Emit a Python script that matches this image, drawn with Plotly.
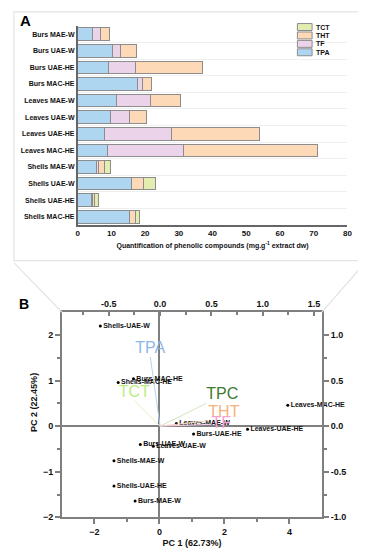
import plotly.graph_objects as go

W, H = 366, 550
FONT = "Liberation Sans"

# ---------------- Panel A data ----------------
categories = ["Burs MAE-W", "Burs UAE-W", "Burs UAE-HE", "Burs MAC-HE",
              "Leaves MAE-W", "Leaves UAE-W", "Leaves UAE-HE", "Leaves MAC-HE",
              "Shells MAE-W", "Shells UAE-W", "Shells UAE-HE", "Shells MAC-HE"]
tpa = [4.4, 10.3, 9.2, 17.7, 11.4, 9.7, 8.0, 8.7, 5.6, 16.1, 4.1, 15.5]
tf = [2.4, 2.3, 7.8, 1.5, 10.1, 5.8, 19.7, 22.7, 0.6, 0.0, 0.2, 0.0]
tht = [2.7, 4.9, 19.9, 2.6, 9.0, 4.9, 26.2, 39.6, 1.8, 3.4, 0.6, 1.7]
tct = [0.0, 0.0, 0.0, 0.0, 0.0, 0.0, 0.0, 0.0, 1.6, 3.5, 1.4, 1.1]
series_names = ["TPA", "TF", "THT", "TCT"]
series_values = [tpa, tf, tht, tct]
series_colors = ["#aed6f1", "#ebd4ea", "#fdd9b8", "#e2eeb0"]
x_ticks_a = [0, 10, 20, 30, 40, 50, 60, 70, 80]

# ---------------- Panel B data ----------------
samples = ["Shells-UAE-W", "Burs-MAC-HE", "Shells-MAC-HE", "Leaves-MAE-W",
           "Leaves-MAC-HE", "Leaves-UAE-HE", "Burs-UAE-HE", "Burs-UAE-W",
           "Leaves-UAE-W", "Shells-MAE-W", "Shells-UAE-HE", "Burs-MAE-W"]
pc1 = [-1.82, -0.80, -1.27, 0.52, 3.95, 2.71, 1.05, -0.59, -0.19, -1.40, -1.40, -0.75]
pc2 = [2.20, 1.04, 0.96, 0.06, 0.46, -0.07, -0.17, -0.40, -0.44, -0.76, -1.31, -1.64]

variables = ["TPA", "TCT", "TPC", "THT", "TF"]
load1 = [-0.095, -0.25, 0.45, 0.47, 0.50]
load2 = [0.76, 0.28, 0.25, 0.06, 0.02]
var_colors = ["#8ab8e6", "#b9ee80", "#3b7a2c", "#f6b27a", "#f4a2d6"]
var_line_colors = ["#b8d4ee", "#dcf5bf", "#cfe6c4", "#fbd9bd", "#f8cfe9"]
var_textpos = ["top center", "top center", "top right", "top right", "middle right"]


def X(px):
    return px / W


def Y(py):
    return 1 - py / H


fig = go.Figure()

# Panel A bars
for name, vals, col in zip(series_names, series_values, series_colors):
    fig.add_trace(go.Bar(
        y=categories, x=vals, name=name, orientation="h",
        marker=dict(color=col, line=dict(color="#8c8c8c", width=1)),
        width=0.76, xaxis="x", yaxis="y", showlegend=False,
    ))

# Panel B loadings (top / right axes): vector lines, then labels at the tips
for v, a, b, c, lc, tp in zip(variables, load1, load2, var_colors, var_line_colors, var_textpos):
    fig.add_trace(go.Scatter(
        x=[0, a], y=[0, b], mode="lines",
        line=dict(color=lc, width=1), xaxis="x3", yaxis="y3",
        showlegend=False, hoverinfo="skip",
    ))
for v, a, b, c, tp in zip(variables, load1, load2, var_colors, var_textpos):
    fig.add_trace(go.Scatter(
        x=[a], y=[b], mode="text", text=[v], cliponaxis=False,
        textposition=tp, textfont=dict(family=FONT, size=16, color=c),
        xaxis="x3", yaxis="y3", showlegend=False, hoverinfo="skip",
    ))

# Panel B scores
fig.add_trace(go.Scatter(
    x=pc1, y=pc2, mode="markers+text", text=samples, textposition="middle right",
    textfont=dict(family=FONT, size=7, color="#111111", weight="bold"),
    marker=dict(color="black", size=3), xaxis="x2", yaxis="y2", showlegend=False,
    cliponaxis=False,
))

axis_gray = "#7f7f7f"
tickfont_b = dict(family=FONT, size=9, color="#111111", weight="bold")

fig.update_layout(
    width=W, height=H, margin=dict(l=0, r=0, t=0, b=0),
    paper_bgcolor="white", plot_bgcolor="white", barmode="stack",
    font=dict(family=FONT, color="#111111"),
    xaxis=dict(domain=[X(69), X(344)], range=[0, 80], tickvals=x_ticks_a,
               showline=True, linecolor="#666666", linewidth=1.5,
               showgrid=False, zeroline=False, ticks="",
               tickfont=dict(family=FONT, size=8, weight="bold"),
               title=dict(text="Quantification of phenolic compounds (mg.g<sup>-1</sup> extract dw)",
                          font=dict(family=FONT, size=7, weight="bold"), standoff=6),
               anchor="y", fixedrange=True),
    yaxis=dict(domain=[Y(219), Y(18)], autorange="reversed", type="category",
               categoryorder="array", categoryarray=categories,
               showline=True, linecolor="#666666", linewidth=1.5,
               showgrid=True, gridcolor="#efefef", gridwidth=1, tickson="boundaries",
               ticks="", tickfont=dict(family=FONT, size=7, weight="bold"),
               anchor="x", fixedrange=True),
    xaxis2=dict(domain=[X(53), X(318)], range=[-3, 5], tickvals=[-2, 0, 2, 4],
                showline=True, linecolor=axis_gray, linewidth=2,
                ticks="outside", ticklen=5, tickwidth=1.5, tickcolor=axis_gray,
                minor=dict(ticks="outside", ticklen=3, tickvals=[-1, 1, 3], tickcolor=axis_gray),
                showgrid=False, zeroline=True, zerolinecolor=axis_gray, zerolinewidth=1.5,
                tickfont=tickfont_b, anchor="y2",
                title=dict(text="PC 1 (62.73%)", font=dict(family=FONT, size=9, weight="bold"), standoff=4)),
    yaxis2=dict(domain=[Y(514), Y(307)], range=[-2, 2.5], tickvals=[-2, -1, 0, 1, 2],
                showline=True, linecolor=axis_gray, linewidth=2,
                ticks="outside", ticklen=5, tickwidth=1.5, tickcolor=axis_gray,
                minor=dict(ticks="outside", ticklen=3, tickvals=[-1.5, -0.5, 0.5, 1.5], tickcolor=axis_gray),
                showgrid=False, zeroline=True, zerolinecolor=axis_gray, zerolinewidth=1.5,
                tickfont=tickfont_b, anchor="x2"),
    xaxis3=dict(domain=[X(53), X(318)], range=[-0.955, 1.576], overlaying="x2", side="top",
                tickvals=[-0.5, 0, 0.5, 1.0, 1.5], ticktext=["-0.5", "0.0", "0.5", "1.0", "1.5"],
                showline=True, linecolor=axis_gray, linewidth=2,
                ticks="inside", ticklen=4, tickwidth=1.5, tickcolor=axis_gray,
                minor=dict(ticks="inside", ticklen=3, tickvals=[-0.75, -0.25, 0.25, 0.75, 1.25],
                           tickcolor=axis_gray),
                showgrid=False, zeroline=False, tickfont=tickfont_b, anchor="y2"),
    yaxis3=dict(domain=[Y(514), Y(307)], range=[-1, 1.25], overlaying="y2", side="right",
                tickvals=[-1.0, -0.5, 0, 0.5, 1.0], ticktext=["-1.0", "-0.5", "0.0", "0.5", "1.0"],
                showline=True, linecolor=axis_gray, linewidth=2,
                ticks="outside", ticklen=5, tickwidth=1.5, tickcolor=axis_gray,
                minor=dict(ticks="outside", ticklen=3, tickvals=[-0.75, -0.25, 0.25, 0.75],
                           tickcolor=axis_gray),
                showgrid=False, zeroline=False, tickfont=tickfont_b, anchor="x2"),
)

shapes = []
annotations = []
# Panel A frame and connectors to panel B
shapes.append(dict(type="rect", xref="paper", yref="paper", x0=X(4), x1=X(362), y0=Y(255), y1=Y(4),
                   line=dict(color="#e4e4e4", width=1.2), layer="below"))
shapes.append(dict(type="line", xref="paper", yref="paper", x0=X(4), y0=Y(257), x1=X(53), y1=Y(307),
                   line=dict(color="#e4e4e4", width=1.2)))
shapes.append(dict(type="line", xref="paper", yref="paper", x0=X(362), y0=Y(257), x1=X(318), y1=Y(307),
                   line=dict(color="#e4e4e4", width=1.2)))

# Manual compact legend (reversed order like the reference)
leg_rows = [19.2, 27.7, 36.2, 44.7]
for i, (name, col) in enumerate(zip(series_names[::-1], series_colors[::-1])):
    yc = leg_rows[i]
    shapes.append(dict(type="rect", xref="paper", yref="paper", x0=X(293), x1=X(308),
                       y0=Y(yc + 3.5), y1=Y(yc - 3.5), fillcolor=col,
                       line=dict(color="#8c8c8c", width=1)))
    annotations.append(dict(text=name, xref="paper", yref="paper", x=X(310), y=Y(yc),
                            xanchor="left", yanchor="middle", showarrow=False,
                            font=dict(family=FONT, size=7, weight="bold", color="#111111")))

# Panel letters
annotations.append(dict(text="A", xref="paper", yref="paper", x=X(8), y=Y(13), xanchor="left",
                        yanchor="middle", showarrow=False,
                        font=dict(family=FONT, size=15, weight="bold", color="black")))
annotations.append(dict(text="B", xref="paper", yref="paper", x=X(7), y=Y(299), xanchor="left",
                        yanchor="middle", showarrow=False,
                        font=dict(family=FONT, size=14, weight="bold", color="black")))
# PC2 axis title
annotations.append(dict(text="PC 2 (22.45%)", xref="paper", yref="paper", x=X(25), y=Y(398),
                        xanchor="center", yanchor="middle", textangle=-90, showarrow=False,
                        font=dict(family=FONT, size=9, weight="bold", color="#111111")))

fig.update_layout(shapes=shapes, annotations=annotations)
fig.write_html("out.html")
